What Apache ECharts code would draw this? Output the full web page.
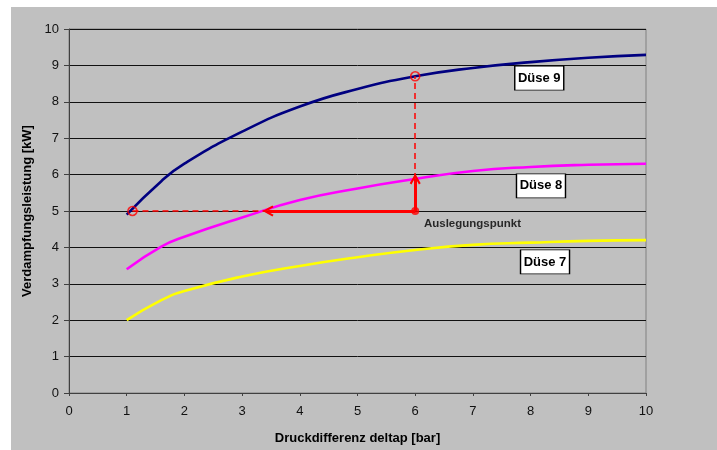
<!DOCTYPE html>
<html>
<head>
<meta charset="utf-8">
<script src="https://cdn.jsdelivr.net/npm/echarts@6/dist/echarts.min.js"></script>
<style>
  html, body { margin: 0; padding: 0; background: #ffffff; }
  #bg { position: absolute; left: 11px; top: 7px; width: 706px; height: 443px; background: #c0c0c0; }
  #chart { position: absolute; left: 0; top: 0; width: 717px; height: 450px; }
</style>
</head>
<body>
<div id="bg"></div>
<div id="chart"></div>
<script>
// ---- data ----
const deltaP = [1, 1.6, 2, 3, 4, 5, 6, 7, 8, 9, 10];            // Druckdifferenz [bar]
const duese9 = [4.9, 5.82, 6.3, 7.18, 7.87, 8.35, 8.7, 8.93, 9.09, 9.21, 9.29];
const duese8 = [3.4, 4.02, 4.29, 4.82, 5.3, 5.62, 5.88, 6.1, 6.21, 6.27, 6.3];
const duese7 = [2.0, 2.55, 2.8, 3.2, 3.49, 3.73, 3.93, 4.07, 4.13, 4.18, 4.2];
const seriesNames = ['Düse 9', 'Düse 8', 'Düse 7'];
const xTicks = [0, 1, 2, 3, 4, 5, 6, 7, 8, 9, 10];
const yTicks = [0, 1, 2, 3, 4, 5, 6, 7, 8, 9, 10];

// design point annotation (data units)
const designPoint = [6, 5];          // Auslegungspunkt
const duese9At5kW = [1.1, 5];        // Düse 9 reaches 5 kW
const duese8At5kW = [3.45, 5];       // Düse 8 reaches 5 kW
const duese8At6bar = [6, 5.88];      // Düse 8 at 6 bar
const duese9At6bar = [6, 8.7];       // Düse 9 at 6 bar

const zip = (xs, ys) => xs.map((x, i) => [x, ys[i]]);

const chart = echarts.init(document.getElementById('chart'), null, { renderer: 'canvas' });
const FONT = 'Liberation Sans, Arial, sans-serif';
const chevron = 'path://M5,0 L10,9 L8.4,10 L5,3.8 L1.6,10 L0,9 Z';

function curve(name, ys, color, labelCoord) {
  return {
    name, type: 'line', data: zip(deltaP, ys),
    smooth: 0.5, showSymbol: false, symbol: 'none',
    lineStyle: { color, width: 2.6 }, z: 3,
    markPoint: {
      symbol: 'rect', symbolSize: [49, 24], silent: true,
      itemStyle: { color: '#ffffff', borderColor: '#000000', borderWidth: 1 },
      label: { show: true, position: 'inside', formatter: name, color: '#000', fontFamily: FONT, fontSize: 13, fontWeight: 'bold' },
      data: [{ coord: labelCoord }]
    }
  };
}

const option = {
  backgroundColor: 'transparent',
  animation: false,
  grid: { left: 69, right: 71, top: 29, bottom: 57, show: true, borderColor: '#808080', borderWidth: 1, backgroundColor: 'transparent' },
  xAxis: {
    type: 'value', min: xTicks[0], max: xTicks[xTicks.length - 1], interval: 1,
    name: 'Druckdifferenz deltap [bar]', nameLocation: 'middle', nameGap: 39,
    nameTextStyle: { fontFamily: FONT, fontSize: 13, fontWeight: 'bold', color: '#000' },
    axisLine: { show: true, lineStyle: { color: '#404040', width: 1 } },
    axisTick: { show: true, length: 3, lineStyle: { color: '#404040' } },
    axisLabel: { margin: 12, fontFamily: FONT, fontSize: 13, color: '#111' },
    splitLine: { show: false }
  },
  yAxis: {
    type: 'value', min: yTicks[0], max: yTicks[yTicks.length - 1], interval: 1,
    name: 'Verdampfungsleistung [kW]', nameLocation: 'middle', nameGap: 27, nameRotate: 90,
    nameTextStyle: { fontFamily: FONT, fontSize: 13, fontWeight: 'bold', color: '#000' },
    axisLine: { show: true, lineStyle: { color: '#404040', width: 1 } },
    axisTick: { show: true, length: 5, lineStyle: { color: '#404040' } },
    axisLabel: { margin: 10, fontFamily: FONT, fontSize: 13, color: '#111' },
    splitLine: { show: true, lineStyle: { color: '#111', width: 1 } }
  },
  series: [
    curve(seriesNames[0], duese9, '#000080', [8.15, 8.65]),
    curve(seriesNames[1], duese8, '#ff00ff', [8.18, 5.69]),
    curve(seriesNames[2], duese7, '#ffff00', [8.25, 3.6]),
    { // dashed guide lines
      type: 'lines', coordinateSystem: 'cartesian2d', z: 4, silent: true,
      lineStyle: { color: '#ff0000', width: 1.5, type: [6, 4], opacity: 1 },
      data: [{ coords: [duese9At5kW, duese8At5kW] }, { coords: [duese8At6bar, duese9At6bar] }]
    },
    { // solid arrows
      type: 'lines', coordinateSystem: 'cartesian2d', z: 5, silent: true,
      symbol: ['none', chevron], symbolSize: 11,
      lineStyle: { color: '#ff0000', width: 3, opacity: 1 },
      data: [{ coords: [designPoint, duese8At5kW] }, { coords: [designPoint, duese8At6bar] }]
    },
    { // hollow circles
      type: 'scatter', z: 6, silent: true, symbol: 'circle', symbolSize: 9,
      itemStyle: { color: 'rgba(0,0,0,0)', borderColor: '#ff0000', borderWidth: 1.6 },
      data: [duese9At5kW, duese9At6bar]
    },
    { // design point
      type: 'scatter', z: 6, silent: true, symbol: 'circle', symbolSize: 8,
      itemStyle: { color: '#ff0000' },
      label: { show: true, formatter: 'Auslegungspunkt', position: [12.7, 17], align: 'left', verticalAlign: 'middle',
               fontFamily: FONT, fontSize: 11.5, fontWeight: 'bold', color: '#000' },
      data: [designPoint]
    }
  ]
};
chart.setOption(option);
</script>
</body>
</html>
